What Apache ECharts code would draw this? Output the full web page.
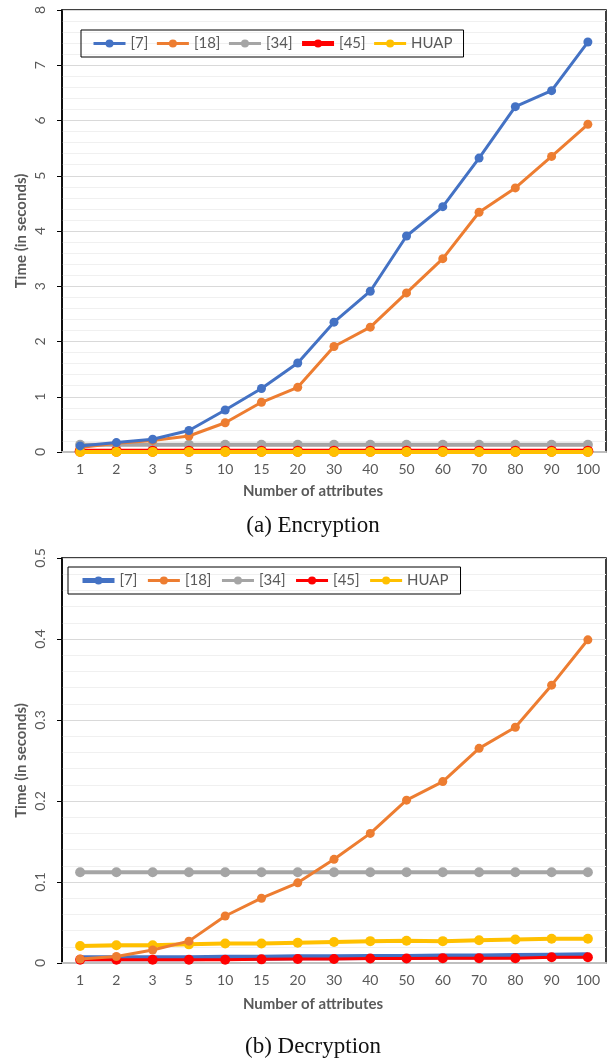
<!DOCTYPE html>
<html>
<head>
<meta charset="utf-8">
<script src="https://cdn.jsdelivr.net/npm/echarts@6/dist/echarts.min.js"></script>
<style>html,body{margin:0;padding:0;background:#fff}#c{width:610px;height:1059px}</style>
</head>
<body>
<div id="c"></div>
<script>
const categories = ['1','2','3','5','10','15','20','30','40','50','60','70','80','90','100'];
const seriesNames = ['[7]','[18]','[34]','[45]','HUAP'];
// Encryption (a)
const enc7   = [0.11,0.17,0.23,0.39,0.76,1.15,1.61,2.35,2.91,3.91,4.44,5.32,6.25,6.54,7.42];
const enc18  = [0.08,0.16,0.21,0.29,0.53,0.90,1.17,1.91,2.26,2.88,3.50,4.34,4.78,5.35,5.93];
const enc34  = [0.13,0.13,0.13,0.13,0.13,0.13,0.13,0.13,0.13,0.13,0.13,0.13,0.13,0.13,0.13];
const enc45  = [0.015,0.015,0.015,0.015,0.015,0.015,0.015,0.015,0.015,0.015,0.015,0.015,0.015,0.015,0.015];
const encHUAP= [0.002,0.002,0.002,0.002,0.002,0.002,0.002,0.002,0.002,0.002,0.002,0.002,0.002,0.002,0.002];
// Decryption (b)
const dec7   = [0.006,0.006,0.006,0.006,0.0065,0.0065,0.007,0.007,0.0075,0.0075,0.008,0.008,0.0085,0.009,0.0095];
const dec18  = [0.005,0.008,0.016,0.027,0.058,0.080,0.099,0.128,0.160,0.201,0.224,0.265,0.291,0.343,0.399];
const dec34  = [0.112,0.112,0.112,0.112,0.112,0.112,0.112,0.112,0.112,0.112,0.112,0.112,0.112,0.112,0.112];
const dec45  = [0.004,0.004,0.004,0.004,0.004,0.0045,0.005,0.005,0.0055,0.0055,0.006,0.006,0.006,0.007,0.007];
const decHUAP= [0.021,0.022,0.022,0.023,0.024,0.024,0.025,0.026,0.027,0.0275,0.027,0.028,0.029,0.030,0.030];

const colors = ['#4472C4','#ED7D31','#A5A5A5','#FF0000','#FFC000'];
const FONT = 'Lato';
const GRAY = '#595959';

function xAxisCfg(gi){
  return {
    type:'category', gridIndex:gi, data:categories, boundaryGap:true,
    axisLine:{show:true, lineStyle:{color:'#BFBFBF', width:2}},
    axisTick:{show:false},
    axisLabel:{color:GRAY, fontFamily:FONT, fontSize:14, margin:10},
    splitLine:{show:false}
  };
}
function yAxisCfg(gi, max, interval, decimals){
  return {
    type:'value', gridIndex:gi, min:0, max:max, interval:interval,
    name:'Time (in seconds)', nameLocation:'middle', nameGap:33, nameRotate:90,
    nameMoveOverlap:false,
    nameTextStyle:{color:GRAY, fontFamily:FONT, fontSize:15, fontWeight:'bold'},
    axisLine:{show:true, lineStyle:{color:'#000', width:1.5}},
    axisTick:{show:true, length:5, inside:false, lineStyle:{color:'#000'}},
    axisLabel:{color:GRAY, fontFamily:FONT, fontSize:14, rotate:90, margin:15,
      formatter: v => decimals ? (v===0 ? '0' : v.toFixed(decimals)) : String(v)},
    splitLine:{show:true, lineStyle:{color:'#D9D9D9', width:1}},
    minorTick:{show:false, splitNumber:5},
    minorSplitLine:{show:true, lineStyle:{color:'#F0F0F0', width:1}}
  };
}
function mk(name, data, gi, color, width, sym, z){
  return {
    type:'line', name:name, xAxisIndex:gi, yAxisIndex:gi, data:data,
    symbol:'circle', symbolSize:sym, showSymbol:true,
    lineStyle:{color:color, width:width}, itemStyle:{color:color},
    z:z, animation:false
  };
}
const s2 = n => n + ' ';
const legWidthA = [3, 3, 3, 5, 3];
const legWidthB = [5, 3, 3, 3, 3];
const chart = echarts.init(document.getElementById('c'), null, {renderer:'canvas'});
chart.setOption({
  animation:false,
  backgroundColor:'#fff',
  grid:[
    {left:62, right:4, top:10, height:442, show:true, borderColor:'#000', borderWidth:1.5, backgroundColor:'transparent'},
    {left:62, right:4, top:558, height:405, show:true, borderColor:'#000', borderWidth:1.5, backgroundColor:'transparent'}
  ],
  xAxis:[xAxisCfg(0), xAxisCfg(1)],
  yAxis:[yAxisCfg(0, 8, 1, 0), yAxisCfg(1, 0.5, 0.1, 1)],
  legend:[
    {data:seriesNames.map((n,i)=>({name:n, lineStyle:{width:legWidthA[i]}})),
     left:81, top:30, orient:'horizontal', itemWidth:32, itemHeight:10, itemGap:7,
     padding:[6,11,6,11], borderColor:'#000', borderWidth:1,
     textStyle:{color:GRAY, fontFamily:FONT, fontSize:15}},
    {data:seriesNames.map((n,i)=>({name:s2(n), lineStyle:{width:legWidthB[i]}})),
     left:68, top:567, orient:'horizontal', itemWidth:32, itemHeight:10, itemGap:9,
     padding:[6,12,6,12], borderColor:'#000', borderWidth:1, formatter: n => n.trim(),
     textStyle:{color:GRAY, fontFamily:FONT, fontSize:15}}
  ],
  title:[
    {text:'Number of attributes', left:308, top:479, textAlign:'center',
     textStyle:{color:GRAY, fontFamily:FONT, fontSize:15, fontWeight:'bold'}},
    {text:'(a) Encryption', left:308, top:509, textAlign:'center',
     textStyle:{color:'#111', fontFamily:'Liberation Serif', fontSize:23, fontWeight:'normal'}},
    {text:'Number of attributes', left:308, top:992, textAlign:'center',
     textStyle:{color:GRAY, fontFamily:FONT, fontSize:15, fontWeight:'bold'}},
    {text:'(b) Decryption', left:308, top:1030, textAlign:'center',
     textStyle:{color:'#111', fontFamily:'Liberation Serif', fontSize:23, fontWeight:'normal'}}
  ],
  series:[
    mk('[7]', enc7, 0, colors[0], 3, 9, 5),
    mk('[18]', enc18, 0, colors[1], 3, 9, 4),
    mk('[34]', enc34, 0, colors[2], 4, 10, 2),
    mk('[45]', enc45, 0, colors[3], 5, 11, 3),
    mk('HUAP', encHUAP, 0, colors[4], 4, 10, 4),
    mk(s2('[7]'), dec7, 1, colors[0], 6, 5, 2),
    mk(s2('[18]'), dec18, 1, colors[1], 3, 9, 4),
    mk(s2('[34]'), dec34, 1, colors[2], 4, 10, 2),
    mk(s2('[45]'), dec45, 1, colors[3], 3, 10, 3),
    mk(s2('HUAP'), decHUAP, 1, colors[4], 4, 10, 3)
  ]
});
</script>
</body>
</html>
